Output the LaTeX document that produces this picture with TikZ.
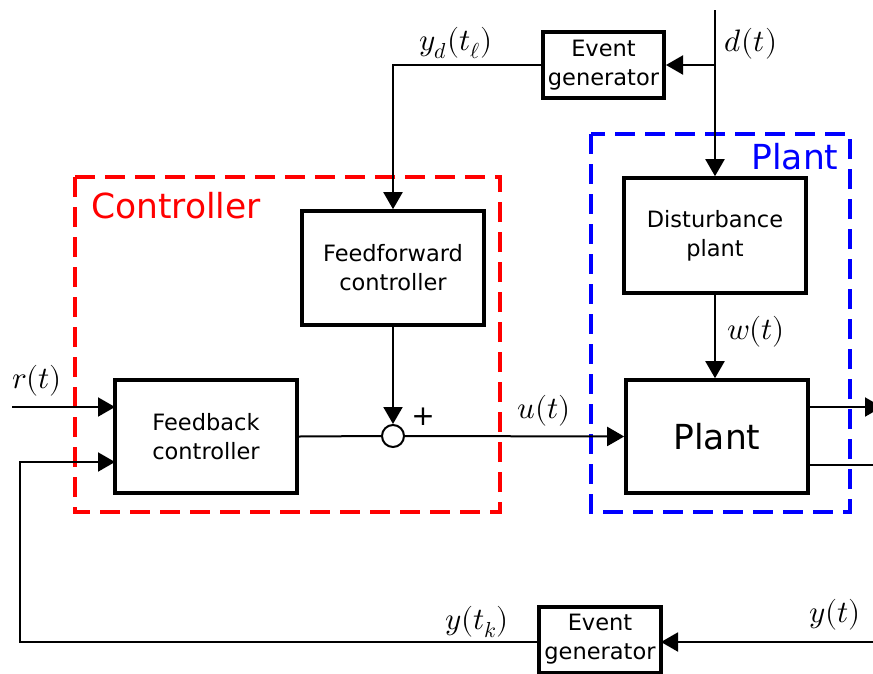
\documentclass[tikz,border=0pt]{standalone}
\usepackage{fontspec}
\usepackage{unicode-math}
\setmainfont{DejaVu Sans}
\setmathfont{Latin Modern Math}
\usetikzlibrary{arrows.meta}
\begin{document}
\begin{tikzpicture}[x=1pt,y=-1pt,
  blk/.style={draw,line width=3.6pt,align=center,inner sep=0pt,font=\fontsize{22.5}{29}\selectfont},
  conn/.style={line width=2pt},
  arr/.style={conn,-{Triangle[length=17pt,width=19pt]}},
  lbl/.style={font=\fontsize{31}{34}\selectfont},
  dashbox/.style={line width=3.5pt,dash pattern=on 20pt off 10pt}]
\useasboundingbox (0,0) rectangle (873,673);
% dashed groups
\draw[dashbox,red] (75,177) rectangle (500,512);
\draw[dashbox,blue] (591,134) rectangle (850,512);
\node[red,font=\fontsize{34.5}{38}\selectfont] (ctrllbl) at (176,206) {Controller};
\node[blue,font=\fontsize{34.5}{38}\selectfont] (plantlbl) at (795,157) {Plant};
% blocks
\node[blk,minimum width=182pt,minimum height=114pt] (ff) at (393,268) {Feedforward\\controller};
\node[blk,minimum width=182pt,minimum height=113pt] (fb) at (206,436.5) {Feedback\\controller};
\node[blk,minimum width=182pt,minimum height=115pt] (dist) at (715,235.5) {Disturbance\\plant};
\node[blk,minimum width=182pt,minimum height=113pt,font=\fontsize{34.5}{38}\selectfont] (plant) at (717,436.5) {Plant};
\node[blk,minimum width=121pt,minimum height=66pt,line width=4pt] (evt) at (603.5,65) {Event\\generator};
\node[blk,minimum width=122pt,minimum height=66pt,line width=4pt] (evb) at (600,639.5) {Event\\generator};
\node[draw,circle,line width=2pt,minimum size=22pt,inner sep=0pt] (sum) at (393,436) {};
\node[font=\fontsize{28}{30}\selectfont] (plus) at (423,417) {+};
% coordinates
\coordinate (dtop) at (715,10);
\coordinate (dbr) at (715,65);
\coordinate (rin) at (12,407);
\coordinate (fbr) at (115,407);
\coordinate (fby) at (115,462);
\coordinate (fbcorner) at (20,462);
\coordinate (botcorner) at (20,642);
\coordinate (evbw) at (539,642);
\coordinate (evbe) at (661,642);
\coordinate (yin) at (873,642);
\coordinate (po1) at (808,407);
\coordinate (po1e) at (882,407);
\coordinate (po2) at (808,465);
\coordinate (po2e) at (873,465);
% connectors
\draw[arr] (dtop) -- (dist.north);
\draw[arr] (dbr) -- (evt.east);
\draw[arr] (evt.west) -| (ff.north);
\draw[arr] (ff.south) -- (sum.north);
\draw[conn] (fb.east) -- (sum.west);
\draw[arr] (sum.east) -- (plant.west);
\draw[arr] (dist.south) -- (dist.south |- plant.north);
\draw[arr] (rin) -- (fbr);
\draw[arr] (evbw) -- (botcorner) -- (fbcorner) -- (fby);
\draw[arr] (yin) -- (evbe);
\draw[arr] (po1) -- (po1e);
\draw[conn] (po2) -- (po2e);
% labels
\node[lbl] (l1) at (456,43) {$y_d(t_\ell)$};
\node[lbl] (l2) at (751,44) {$d(t)$};
\node[lbl] (l3) at (756,332) {$w(t)$};
\node[lbl] (l4) at (544,411) {$u(t)$};
\node[lbl] (l5) at (37,381) {$r(t)$};
\node[lbl] (l6) at (477,622) {$y(t_k)$};
\node[lbl] (l7) at (835,615) {$y(t)$};
\end{tikzpicture}
\end{document}
